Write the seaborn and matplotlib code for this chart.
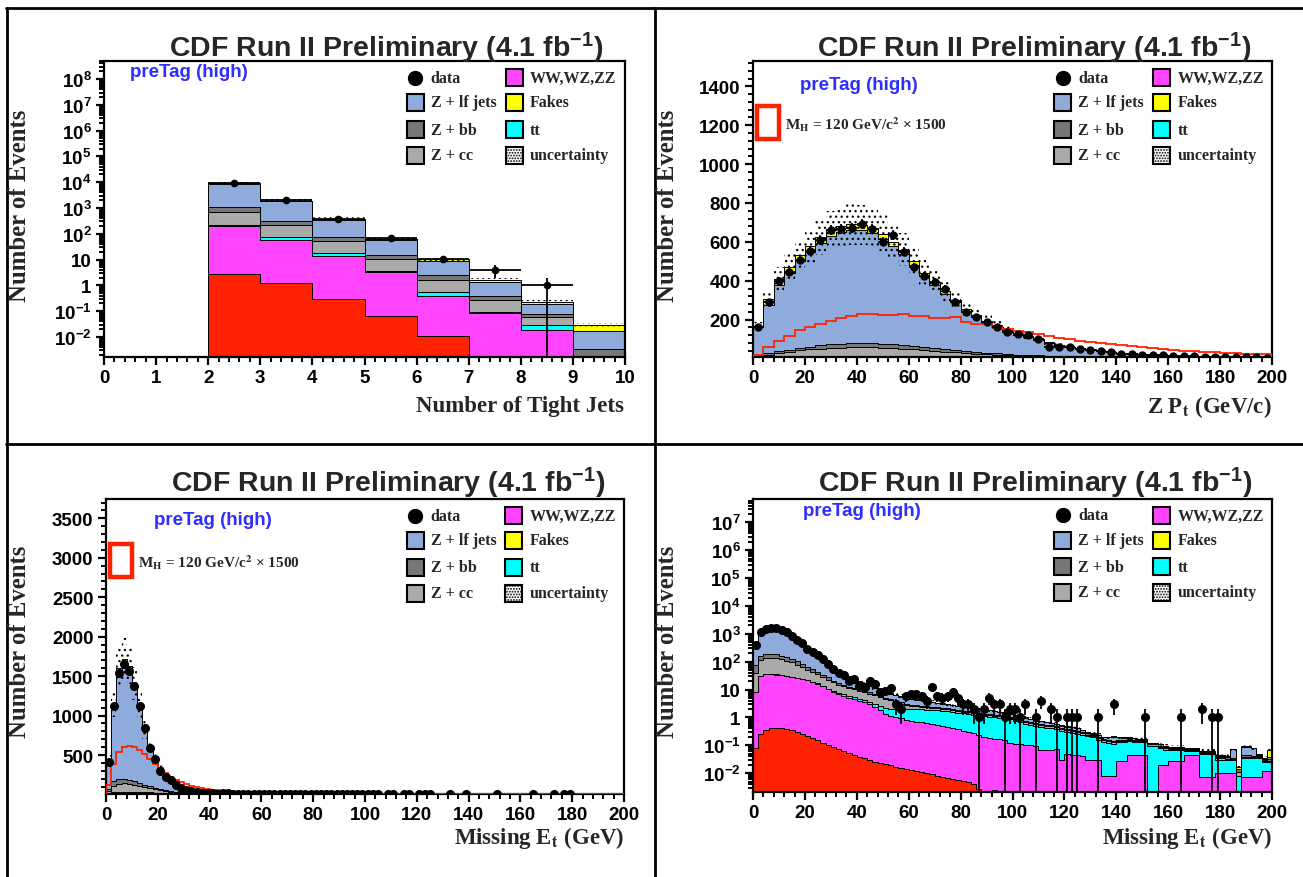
import numpy as np
import pandas as pd
import matplotlib
matplotlib.use("Agg")
import matplotlib.pyplot as plt
import seaborn as sns
from matplotlib.lines import Line2D
from matplotlib.patches import Rectangle
from matplotlib.ticker import MultipleLocator, LogLocator, FuncFormatter, NullFormatter

# ---------------- data ----------------
# Number of tight jets, bins of width 1 from 0 to 10
njet_edges = np.arange(0, 11)
njet_data = [0, 0, 9300, 2000, 390, 69, 11, 4, 1, 0]
njet_higgs = [0, 0, 2.75, 1.2, 0.30, 0.063, 0.0107, 0, 0, 0]
njet_ww = [0, 0, 192, 58, 13.7, 3.1, 0.39, 0.083, 0.0187, 0]
njet_tt = [0, 0, 30, 14, 4, 0.5, 0.17, 0.013, 0.0103, 0]
njet_cc = [0, 0, 495, 152, 36, 6.8, 1.09, 0.164, 0.029, 0]
njet_bb = [0, 0, 350, 100, 19, 4.5, 0.84, 0.14, 0.018, 0.0034]
njet_lf = [0, 0, 7800, 1505, 282, 44, 6.6, 0.92, 0.114, 0.0141]
njet_fakes = [0, 0, 300, 90, 18, 5, 1.6, 0.3, 0.045, 0.012]

# Z Pt, 4 GeV bins from 0 to 200
zpt_edges = np.arange(0, 204, 4)
zpt_data = [
    161, 290, 400, 447, 508, 555, 611, 663, 666, 670,
    692, 666, 601, 635, 550, 469, 426, 392, 358, 293,
    241, 212, 190, 161, 138, 126, 121, 101, 61, 61,
    58, 49, 46, 41, 35, 24, 23, 20, 18, 16,
    14, 12, 11, 9, 10, 8, 7, 6, 6, 5,
]
zpt_higgs = [
    0.012, 0.039, 0.061, 0.079, 0.098, 0.107, 0.119, 0.130, 0.138, 0.145,
    0.153, 0.153, 0.149, 0.149, 0.153, 0.147, 0.145, 0.138, 0.138, 0.141,
    0.127, 0.119, 0.119, 0.107, 0.101, 0.095, 0.090, 0.084, 0.077, 0.069,
    0.067, 0.061, 0.058, 0.053, 0.049, 0.047, 0.042, 0.039, 0.035, 0.033,
    0.029, 0.027, 0.025, 0.023, 0.021, 0.020, 0.019, 0.017, 0.015, 0.014,
]
zpt_ww = [
    0.5, 1.5, 2.5, 3, 3.5, 3.8, 4, 4.2, 4.3, 4.3,
    4.2, 4.1, 4, 3.8, 3.6, 3.4, 3.1, 2.9, 2.6, 2.4,
    2.2, 2, 1.8, 1.6, 1.4, 1.3, 1.1, 1, 0.9, 0.8,
    0.7, 0.65, 0.6, 0.5, 0.45, 0.4, 0.35, 0.3, 0.28, 0.25,
    0.22, 0.2, 0.18, 0.16, 0.15, 0.13, 0.12, 0.1, 0.1, 0.09,
]
zpt_tt = [
    0.3, 0.8, 1.2, 1.5, 1.8, 2, 2.1, 2.2, 2.3, 2.3,
    2.3, 2.2, 2.1, 2, 1.9, 1.8, 1.7, 1.6, 1.5, 1.4,
    1.3, 1.2, 1.1, 1, 0.9, 0.8, 0.75, 0.7, 0.6, 0.55,
    0.5, 0.45, 0.4, 0.35, 0.3, 0.28, 0.25, 0.22, 0.2, 0.18,
    0.16, 0.14, 0.12, 0.1, 0.1, 0.09, 0.08, 0.07, 0.06, 0.05,
]
zpt_cc = [
    11, 18, 24, 30, 37, 41, 45, 48, 49, 51,
    51, 51, 49, 47, 44, 42, 39, 35, 32, 28,
    24, 22, 19, 16, 15, 13, 11.5, 10, 9, 8,
    7, 6.2, 5.5, 4.8, 4.2, 3.7, 3.2, 2.8, 2.4, 2.1,
    1.8, 1.6, 1.4, 1.2, 1.0, 0.9, 0.8, 0.7, 0.6, 0.5,
]
zpt_bb = [
    4, 6, 9, 11, 13, 15, 17, 18, 20, 21,
    22, 22, 21, 20, 19, 18, 17, 15, 13, 12,
    11, 9.5, 8.5, 7.5, 6.5, 5.5, 5, 4.5, 4, 3.5,
    3, 2.6, 2.3, 2, 1.8, 1.6, 1.4, 1.2, 1.0, 0.9,
    0.8, 0.7, 0.6, 0.5, 0.45, 0.4, 0.35, 0.3, 0.28, 0.25,
]
zpt_lf = [
    144, 251, 341, 395, 445, 488, 527, 560, 576, 584,
    580, 566, 540, 504, 470, 416, 362, 326, 283, 245,
    206, 181, 157, 137, 115, 102, 95, 80, 67, 56,
    48, 42, 36, 30.5, 26.6, 22.6, 19.6, 17.5, 15.2, 12.8,
    11.3, 9.8, 8.7, 7.6, 6.9, 6.1, 5.35, 4.75, 4.2, 3.9,
]
zpt_fakes = [
    5, 28, 32, 30, 30, 30, 30, 28, 28, 27,
    26, 25, 24, 23, 21, 19, 17, 15, 13, 11,
    10, 9, 8, 7, 6, 5, 4.5, 4, 3.5, 3,
    2.7, 2.4, 2.1, 1.8, 1.6, 1.4, 1.2, 1, 0.9, 0.8,
    0.7, 0.6, 0.5, 0.45, 0.4, 0.35, 0.3, 0.28, 0.25, 0.22,
]

# Missing Et, 2 GeV bins from 0 to 200
met_edges = np.arange(0, 202, 2)
met_data = [
    410, 1125, 1540, 1660, 1560, 1370, 1125, 840, 595, 455,
    295, 225, 180, 120, 85, 55, 39, 34, 21, 24,
    13, 12, 21, 16, 8, 9, 11, 3, 2, 6,
    7, 7, 6, 4, 12, 6, 5, 6, 8, 5,
    3, 3, 2, 1, 2, 5, 3, 3, 1, 2,
    2, 1, 3, 0, 1, 4, 0, 2, 1, 0,
    1, 1, 1, 0, 0, 0, 1, 0, 0, 3,
    0, 0, 0, 0, 0, 1, 0, 0, 0, 0,
    0, 0, 1, 0, 0, 0, 2, 0, 1, 1,
    0, 0, 0, 0, 0, 0, 0, 0, 0, 0,
]
met_higgs = [
    0.08, 0.26, 0.36, 0.40, 0.41, 0.40, 0.38, 0.34, 0.30, 0.26,
    0.22, 0.18, 0.15, 0.125, 0.105, 0.088, 0.074, 0.062, 0.052, 0.045,
    0.039, 0.034, 0.030, 0.026, 0.023, 0.021, 0.019, 0.017, 0.0155, 0.014,
    0.013, 0.012, 0.011, 0.0098, 0.009, 0.0082, 0.0075, 0.0068, 0.0063, 0.0058,
    0.0052, 0.0047, 0.0042, 0.0028, 0, 0, 0.0024, 0, 0, 0,
    0, 0, 0, 0, 0, 0, 0, 0, 0, 0,
    0, 0, 0, 0, 0, 0, 0, 0, 0, 0,
    0, 0, 0, 0, 0, 0, 0, 0, 0, 0,
    0, 0, 0, 0, 0, 0, 0, 0, 0, 0,
    0, 0, 0, 0, 0, 0, 0, 0, 0, 0,
]
met_ww = [
    8, 30, 36, 36, 34, 32, 30, 28, 26, 24,
    21, 18, 16, 13, 10, 8, 7, 6, 5, 4.5,
    4, 3.5, 2.9, 2.3, 1.8, 1.35, 1.15, 1.0, 0.9, 0.82,
    0.75, 0.7, 0.65, 0.6, 0.56, 0.52, 0.48, 0.44, 0.4, 0.37,
    0.33, 0.3, 0.27, 0.24, 0.2, 0.18, 0.17, 0.17, 0.15, 0.12,
    0.11, 0.11, 0.1, 0.1, 0.095, 0.07, 0.07, 0.07, 0.075, 0.03,
    0.05, 0.045, 0.043, 0.04, 0.03, 0.03, 0.03, 0.008, 0.008, 0.008,
    0.028, 0.028, 0.043, 0.043, 0.043, 0.043, 0, 0, 0.02, 0.02,
    0.028, 0.028, 0.028, 0.043, 0.043, 0.043, 0.0074, 0.0074, 0.0074, 0.01,
    0.01, 0.01, 0.01, 0, 0.0074, 0.0074, 0.0074, 0.0074, 0.012, 0.012,
]
met_tt = [
    0.1, 0.2, 0.3, 0.35, 0.4, 0.4, 0.45, 0.45, 0.5, 0.5,
    0.5, 0.55, 0.55, 0.55, 0.6, 0.6, 0.6, 0.65, 0.65, 0.7,
    0.7, 0.72, 0.74, 0.76, 0.78, 0.8, 0.9, 1.0, 1.1, 1.2,
    1.25, 1.3, 1.3, 1.3, 1.3, 1.28, 1.25, 1.2, 1.15, 1.1,
    1.05, 1.0, 0.98, 0.95, 0.9, 0.87, 0.84, 0.8, 0.76, 0.73,
    0.62, 0.58, 0.5, 0.42, 0.4, 0.38, 0.36, 0.34, 0.32, 0.3,
    0.25, 0.24, 0.22, 0.2, 0.18, 0.16, 0.13, 0.12, 0.11, 0.1,
    0.1, 0.1, 0.095, 0.09, 0.09, 0.09, 0.098, 0.098, 0.06, 0.05,
    0.037, 0.037, 0.037, 0.02, 0.02, 0.02, 0.04, 0.04, 0.04, 0.02,
    0.02, 0.02, 0.02, 0.008, 0.028, 0.028, 0.028, 0.028, 0.013, 0.013,
]
met_cc = [
    32, 80, 99, 104, 101, 90, 78, 65, 52, 39,
    30, 24, 18.5, 14.5, 11.4, 9.4, 7.4, 6.3, 5.5, 4.8,
    4.3, 3.9, 3.5, 3.1, 2.8, 2.4, 2.0, 1.5, 1.1, 0.8,
    0.6, 0.5, 0.45, 0.4, 0.36, 0.33, 0.3, 0.28, 0.26, 0.24,
    0.22, 0.2, 0.19, 0.18, 0.16, 0.15, 0.14, 0.13, 0.12, 0.11,
    0.1, 0.095, 0.09, 0.085, 0.08, 0.075, 0.07, 0.065, 0.06, 0.055,
    0.05, 0.045, 0.04, 0.035, 0.03, 0.028, 0.025, 0.022, 0.02, 0.018,
    0.016, 0.015, 0.014, 0.013, 0.012, 0.011, 0.01, 0.009, 0.008, 0.008,
    0.007, 0.007, 0.006, 0.006, 0.005, 0.005, 0.005, 0.004, 0.004, 0.004,
    0.004, 0.003, 0.003, 0.003, 0.003, 0.003, 0.002, 0.002, 0.002, 0.002,
]
met_bb = [
    35, 55, 55, 55, 50, 43, 37, 32, 25, 20,
    15, 11, 8, 6, 5, 3, 2.5, 2, 1.6, 1.3,
    1.2, 1.0, 0.9, 0.8, 0.7, 0.6, 0.5, 0.4, 0.35, 0.3,
    0.28, 0.26, 0.24, 0.22, 0.2, 0.19, 0.18, 0.17, 0.16, 0.15,
    0.14, 0.13, 0.12, 0.11, 0.1, 0.095, 0.09, 0.085, 0.08, 0.075,
    0.07, 0.065, 0.06, 0.055, 0.05, 0.048, 0.045, 0.042, 0.04, 0.038,
    0.035, 0.032, 0.03, 0.028, 0.025, 0.022, 0.02, 0.018, 0.016, 0.015,
    0.014, 0.013, 0.012, 0.011, 0.01, 0.009, 0.008, 0.008, 0.007, 0.007,
    0.006, 0.006, 0.006, 0.005, 0.005, 0.005, 0.004, 0.004, 0.004, 0.004,
    0.004, 0.004, 0.003, 0.003, 0.006, 0.006, 0.003, 0.003, 0.003, 0.006,
]
met_lf = [
    340, 950, 1365, 1475, 1397, 1203, 940, 677, 482, 352,
    244, 173, 126, 91, 64, 46, 32, 23, 16.6, 12.4,
    8.8, 6.6, 4.9, 4.0, 3.0, 2.7, 2.35, 2.23, 2.1, 1.97,
    1.83, 1.57, 1.41, 1.25, 1.06, 0.97, 0.89, 0.82, 0.75, 0.72,
    0.7, 0.66, 0.59, 0.57, 0.6, 0.52, 0.48, 0.39, 0.36, 0.34,
    0.28, 0.23, 0.23, 0.22, 0.16, 0.16, 0.14, 0.09, 0.073, 0.087,
    0.085, 0.078, 0.078, 0.048, 0.027, 0.022, 0.028, 0.025, 0.04, 0.063,
    0.035, 0.03, 0.025, 0.02, 0.015, 0.012, 0.004, 0.004, 0.015, 0.01,
    0.008, 0.007, 0.006, 0.006, 0.005, 0.005, 0.004, 0.004, 0.004, 0.003,
    0.003, 0.003, 0.035, 0, 0.04, 0.04, 0.04, 0.005, 0.003, 0.005,
]
met_fakes = [
    15, 35, 45, 50, 48, 42, 35, 28, 20, 14,
    10, 8, 6, 5, 4, 3, 2.5, 2, 1.6, 1.3,
    1.0, 0.8, 0.6, 0.5, 0.4, 0.35, 0.3, 0.27, 0.24, 0.21,
    0.19, 0.17, 0.15, 0.13, 0.12, 0.11, 0.1, 0.09, 0.08, 0.07,
    0.065, 0.06, 0.055, 0.05, 0.045, 0.04, 0.035, 0.03, 0.03, 0.025,
    0.025, 0.02, 0.02, 0.02, 0.015, 0.015, 0.015, 0.012, 0.012, 0.01,
    0.01, 0.01, 0.009, 0.009, 0.008, 0.008, 0.007, 0.007, 0.006, 0.006,
    0.006, 0.005, 0.005, 0.005, 0.004, 0.004, 0.004, 0.004, 0.003, 0.003,
    0.003, 0.003, 0.003, 0.003, 0.003, 0.003, 0.002, 0.002, 0.002, 0.002,
    0.002, 0.002, 0.002, 0.002, 0.006, 0.006, 0.002, 0.002, 0.002, 0.03,
]

HIGGS_SCALE = 1500
UNC_FRAC = 0.15

COLORS = {
    "lf": "#8fabdb", "bb": "#777777", "cc": "#aaaaaa", "ww": "#ff44ff",
    "fakes": "#ffff00", "tt": "#00ffff", "higgs": "#ff2200",
}
STACK_ORDER = ["fakes", "lf", "bb", "cc", "tt", "ww", "higgs"]  # first = top
BLUE = "#2e2eff"
W, H = 1303, 878

# ---------------- style ----------------
sns.set_style("white")
plt.rcParams.update({
    "font.family": "Liberation Sans",
    "font.weight": "bold",
    "mathtext.fontset": "custom",
    "mathtext.rm": "Liberation Sans:bold",
    "mathtext.bf": "Liberation Sans:bold",
    "mathtext.it": "Liberation Sans:bold",
    "mathtext.sf": "Liberation Sans:bold",
    "axes.edgecolor": "black",
    "axes.linewidth": 1.6,
    "hatch.linewidth": 0.9,
    "xtick.color": "black",
    "ytick.color": "black",
})

fig = plt.figure(figsize=(W / 100, H / 100), dpi=100)


def add_axes_px(x0, y0, x1, y1):
    return fig.add_axes([x0 / W, 1 - y1 / H, (x1 - x0) / W, (y1 - y0) / H])


def ftext(px, py, s, **kw):
    fig.text(px / W, 1 - py / H, s, **kw)


def log_label(v, pos):
    e = int(round(np.log10(v)))
    if e == 0:
        return "1"
    if e == 1:
        return "10"
    return r"$10^{%d}$" % e


def draw_stack(ax, edges, comps, with_higgs):
    centers = (edges[:-1] + edges[1:]) / 2
    order = [k for k in STACK_ORDER if with_higgs or k != "higgs"]
    df = pd.concat([pd.DataFrame({"x": centers, "w": comps[k], "proc": k}) for k in order],
                   ignore_index=True)
    sns.histplot(data=df, x="x", weights="w", hue="proc", hue_order=order,
                 palette=COLORS, multiple="stack", bins=[float(e) for e in edges],
                 element="step", fill=True, alpha=1, edgecolor="black", linewidth=0.7,
                 legend=False, ax=ax)
    total = np.sum([np.asarray(comps[k], float) for k in order if k != "higgs"], axis=0)
    lo = np.append(total, total[-1]) * (1 - UNC_FRAC)
    hi = np.append(total, total[-1]) * (1 + UNC_FRAC)
    ax.fill_between(edges, lo, hi, step="post", facecolor="none", edgecolor="black",
                    hatch="...", linewidth=0, zorder=3)


def draw_data(ax, edges, counts, ms):
    centers = (edges[:-1] + edges[1:]) / 2
    hw = (edges[1:] - edges[:-1]) / 2
    d = np.asarray(counts, float)
    m = d > 0
    ax.errorbar(centers[m], d[m], yerr=np.sqrt(d[m]), xerr=hw[m], fmt="o",
                color="black", ms=ms, elinewidth=1.3, capsize=0, zorder=6)


def style_axis(ax, xlim, xmajor, xminor, ylim, log, ymajor=None, yminor=None):
    ax.set_xlim(*xlim)
    if log:
        ax.set_yscale("log")
        ax.yaxis.set_major_locator(LogLocator(base=10, numticks=100))
        ax.yaxis.set_minor_locator(LogLocator(base=10, subs=np.arange(2, 10), numticks=100))
        ax.yaxis.set_major_formatter(FuncFormatter(log_label))
        ax.yaxis.set_minor_formatter(NullFormatter())
    else:
        ax.yaxis.set_major_locator(MultipleLocator(ymajor))
        ax.yaxis.set_minor_locator(MultipleLocator(yminor))
    ax.set_ylim(*ylim)
    ax.xaxis.set_major_locator(MultipleLocator(xmajor))
    ax.xaxis.set_minor_locator(MultipleLocator(xminor))
    ax.set_xlabel("")
    ax.set_ylabel("")
    ax.tick_params(which="both", direction="out", left=True, bottom=True,
                   top=False, right=False, colors="black")
    ax.tick_params(which="major", length=6, width=1.6, labelsize=13.5, pad=3)
    ax.tick_params(which="minor", length=3.5, width=1.4)
    for s in ax.spines.values():
        s.set_visible(True)
        s.set_color("black")
        s.set_linewidth(1.6)


def draw_legend(ax):
    bb = ax.get_position()
    bw, bh = 17 / (bb.width * W), 17 / (bb.height * H)
    rows = [0.944, 0.860, 0.768, 0.681]
    cols = [(0.597, 0.627), (0.787, 0.818)]
    entries = [("data", "data"), ("Z + lf jets", "lf"), ("Z + bb", "bb"), ("Z + cc", "cc"),
               ("WW,WZ,ZZ", "ww"), ("Fakes", "fakes"), ("tt", "tt"), ("uncertainty", "unc")]
    for i, (label, key) in enumerate(entries):
        col, row = divmod(i, 4)
        bx, tx = cols[col]
        y = rows[row]
        if key == "data":
            ax.plot([bx], [y], "o", color="black", ms=10, transform=ax.transAxes, clip_on=False)
        else:
            fc = "white" if key == "unc" else COLORS[key]
            ax.add_patch(Rectangle((bx - bw / 2, y - bh / 2), bw, bh, transform=ax.transAxes,
                                   facecolor=fc, edgecolor="black", lw=1.5,
                                   hatch="......" if key == "unc" else None, clip_on=False,
                                   zorder=7))
        ax.text(tx, y, label, transform=ax.transAxes, ha="left", va="center",
                family="Liberation Serif", fontsize=11.5, fontweight="bold")


def draw_higgs_legend(ax):
    ax.add_patch(Rectangle((0.007, 0.735), 0.044, 0.112, transform=ax.transAxes,
                           fill=False, edgecolor=COLORS["higgs"], lw=3.2, clip_on=False, zorder=7))
    ax.text(0.062, 0.789, r"M$_{\mathbf{H}}$ = 120 GeV/c$^{\mathbf{2}}$ × 1500",
            transform=ax.transAxes, ha="left", va="center", family="Liberation Serif",
            fontsize=11, fontweight="bold", math_fontfamily="stix")


njet = dict(higgs=njet_higgs, ww=njet_ww, tt=njet_tt, cc=njet_cc, bb=njet_bb,
            lf=njet_lf, fakes=njet_fakes)
zpt = dict(higgs=zpt_higgs, ww=zpt_ww, tt=zpt_tt, cc=zpt_cc, bb=zpt_bb,
           lf=zpt_lf, fakes=zpt_fakes)
met = dict(higgs=met_higgs, ww=met_ww, tt=met_tt, cc=met_cc, bb=met_bb,
           lf=met_lf, fakes=met_fakes)

ax_tl = add_axes_px(104, 62, 625, 358)
ax_tr = add_axes_px(753, 62, 1272, 358)
ax_bl = add_axes_px(106, 500, 624, 795)
ax_br = add_axes_px(753, 500, 1272, 793)

# top left: number of tight jets (log)
draw_stack(ax_tl, njet_edges, njet, True)
draw_data(ax_tl, njet_edges, njet_data, 4.5)
style_axis(ax_tl, (0, 10), 1, 0.2, (1.67e-3, 5e8), True)

# top right: Z Pt (linear)
draw_stack(ax_tr, zpt_edges, zpt, False)
ax_tr.stairs(np.asarray(zpt_higgs) * HIGGS_SCALE, zpt_edges, color=COLORS["higgs"], lw=1.3, zorder=4)
draw_data(ax_tr, zpt_edges, zpt_data, 5)
style_axis(ax_tr, (0, 200), 20, 4, (8, 1530), False, 200, 40)
draw_higgs_legend(ax_tr)

# bottom left: missing Et (linear)
draw_stack(ax_bl, met_edges, met, False)
ax_bl.stairs(np.asarray(met_higgs) * HIGGS_SCALE, met_edges, color=COLORS["higgs"], lw=1.3, zorder=4)
draw_data(ax_bl, met_edges, met_data, 5.5)
style_axis(ax_bl, (0, 200), 20, 4, (6, 3745), False, 500, 100)
draw_higgs_legend(ax_bl)

# bottom right: missing Et (log)
draw_stack(ax_br, met_edges, met, True)
draw_data(ax_br, met_edges, met_data, 5.5)
style_axis(ax_br, (0, 200), 20, 4, (2.1e-3, 6.9e7), True)

pretag_pos = {ax_tl: (0.05, 0.963), ax_tr: (0.09, 0.922), ax_bl: (0.093, 0.929), ax_br: (0.096, 0.962)}
for ax, (px, py) in pretag_pos.items():
    ax.text(px, py, "preTag (high)", transform=ax.transAxes, ha="left", va="center",
            color=BLUE, fontsize=13.5, fontweight="bold")
    draw_legend(ax)

title = r"CDF Run II Preliminary (4.1 fb$^{\mathbf{-1}}$)"
for (xr, yb) in [(604, 57), (1252, 57), (606, 492), (1253, 492)]:
    ftext(xr, yb, title, ha="right", va="baseline", fontsize=20.5, fontweight="bold")

serif = dict(family="Liberation Serif", fontweight="bold", math_fontfamily="stix")
for (xc, yt) in [(20, 110), (668, 110), (20, 546), (668, 546)]:
    ftext(xc, yt, "Number of Events", rotation=90, ha="center", va="top", fontsize=17.8, **serif)

ftext(624, 412, "Number of Tight Jets", ha="right", va="baseline", fontsize=16.5, **serif)
ftext(1272, 413, r"Z P$_{\mathbf{t}}$ (GeV/c)", ha="right", va="baseline", fontsize=16.5, **serif)
ftext(624, 844, r"Missing E$_{\mathbf{t}}$ (GeV)", ha="right", va="baseline", fontsize=16.5, **serif)
ftext(1272, 844, r"Missing E$_{\mathbf{t}}$ (GeV)", ha="right", va="baseline", fontsize=16.5, **serif)

# panel frame lines
for xs, ys in [((6, W), (9, 9)), ((6.5, 6.5), (9, H)), ((655, 655), (9, H)), ((6, W), (444.5, 444.5))]:
    fig.add_artist(Line2D([x / W for x in xs], [1 - y / H for y in ys],
                          transform=fig.transFigure, color="black", lw=2))

fig.savefig("out.png", dpi=100)
plt.close(fig)
